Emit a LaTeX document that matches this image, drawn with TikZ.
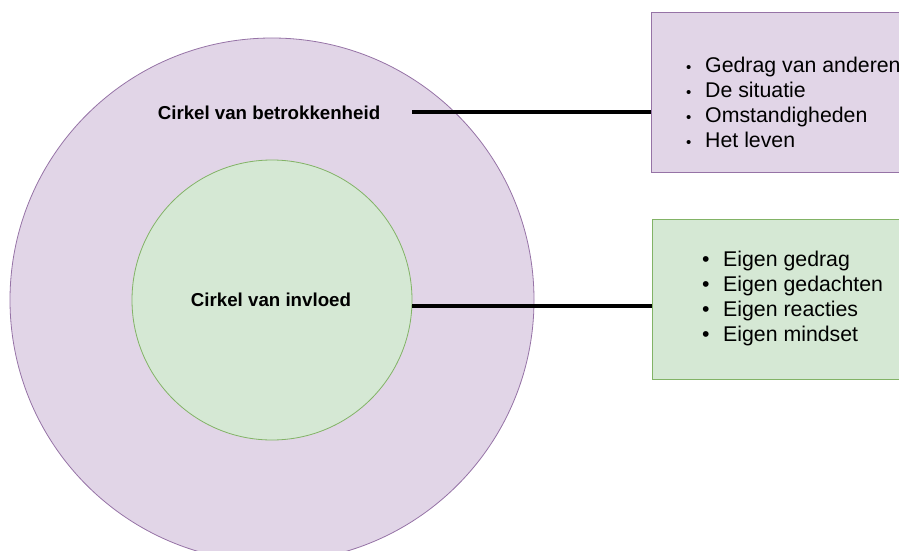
\documentclass[tikz,border=0pt]{standalone}
\usepackage{fontspec}
\setmainfont{Liberation Sans}
\definecolor{paars}{HTML}{E1D5E7}
\definecolor{paarsrand}{HTML}{9673A6}
\definecolor{groen}{HTML}{D5E8D4}
\definecolor{groenrand}{HTML}{82B366}
\newcommand{\stipje}{\makebox[19pt][l]{\fontsize{15}{15}\selectfont\textbullet}}
\newcommand{\bolletje}{\makebox[21pt][l]{\textbullet}}
\begin{document}
\begin{tikzpicture}[x=1pt,y=-1pt,
    cirkel/.style={circle,draw,inner sep=0pt,line width=0.8pt},
    kop/.style={font=\fontsize{18.7}{22}\selectfont\bfseries},
    lijst/.style={font=\fontsize{21.3}{25}\selectfont,align=left,inner sep=0pt,anchor=west},
    vak/.style={rectangle,draw,line width=0.8pt,minimum width=320pt,minimum height=160pt,anchor=west,inner sep=0pt},
    lijn/.style={line width=4pt}]
    \useasboundingbox (0,0) rectangle (899,551);
    \clip (0,0) rectangle (899,551);
    % cirkels
    \node[cirkel,fill=paars,draw=paarsrand,minimum size=524pt] (betrokkenheid) at (272,300) {};
    \node[cirkel,fill=groen,draw=groenrand,minimum size=280pt] (invloed) at (272,300) {};
    \node[kop] (betrlabel) at (269,113) {Cirkel van betrokkenheid};
    \node[kop] (invllabel) at (271,300) {Cirkel van invloed};
    % vakken
    \node[vak,fill=paars,draw=paarsrand] (omgeving) at (651,92) {};
    \node[vak,fill=groen,draw=groenrand] (zelf) at (652,299) {};
    \node[lijst] (omglijst) at (686,102.5) {\stipje Gedrag van anderen\\ \stipje De situatie\\ \stipje Omstandigheden\\ \stipje Het leven};
    \node[lijst] (zelflijst) at (702,298.5) {\bolletje Eigen gedrag\\ \bolletje Eigen gedachten\\ \bolletje Eigen reacties\\ \bolletje Eigen mindset};
    % lijnen
    \coordinate (b1) at (412,112);
    \draw[lijn] (b1) -- (omgeving.west |- b1);
    \draw[lijn] ([yshift=-6pt]invloed.east) coordinate (i1) -- (zelf.west |- i1);
\end{tikzpicture}
\end{document}
